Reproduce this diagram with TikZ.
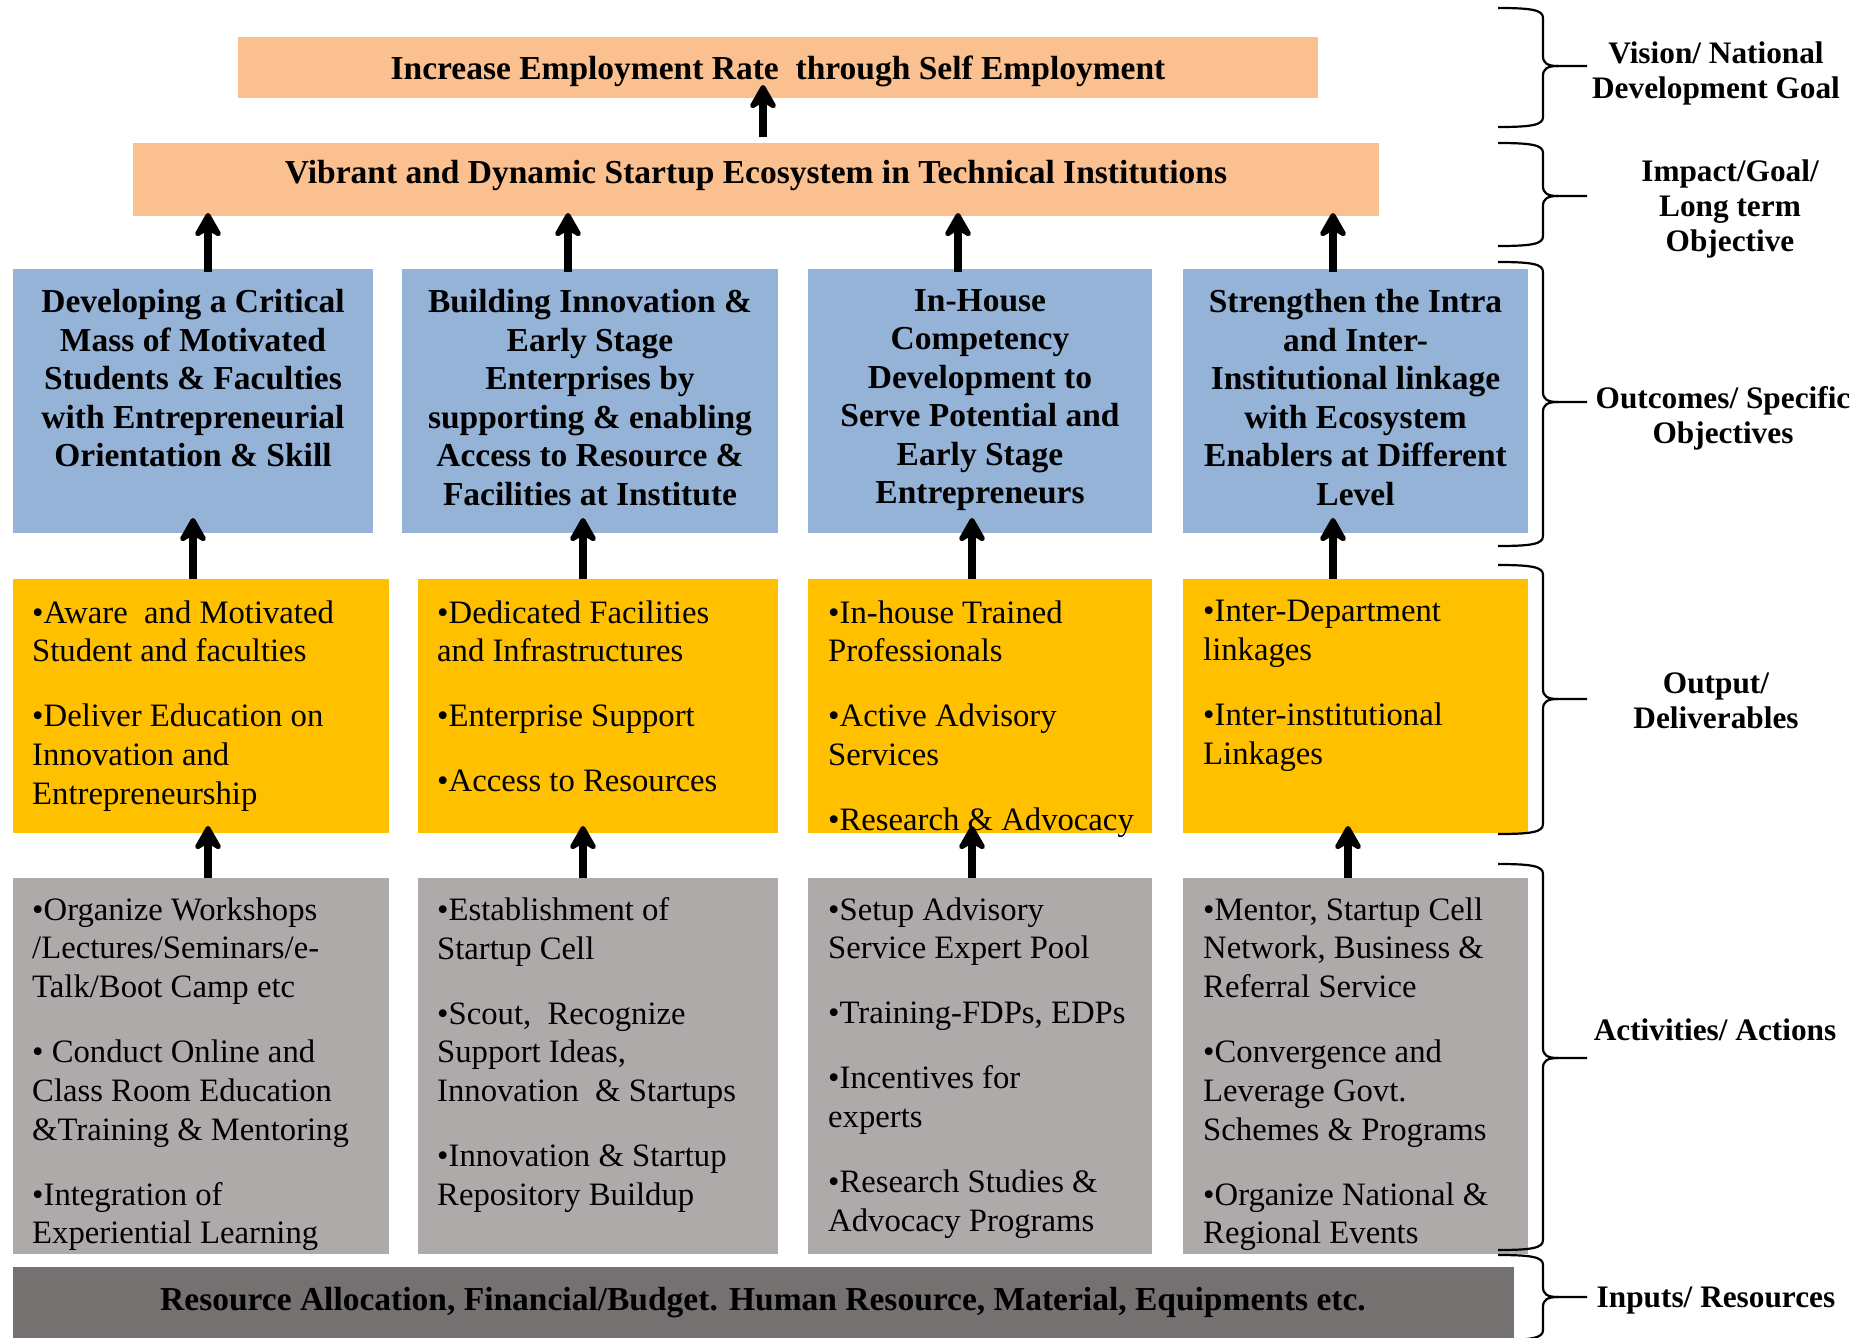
\documentclass[tikz,border=0pt]{standalone}
\usepackage{fontspec}
\setmainfont{Liberation Serif}
\usetikzlibrary{arrows.meta,calc}
\definecolor{peach}{HTML}{FAC090}
\definecolor{bluebox}{HTML}{95B3D7}
\definecolor{yelbox}{HTML}{FFC000}
\definecolor{graybox}{HTML}{AEAAAA}
\definecolor{darkbox}{HTML}{767171}
\newcommand\myB{\fontsize{33.5}{38.5}\selectfont\bfseries}
\newcommand\myR{\fontsize{32.7}{38.7}\selectfont}
\newcommand\myL{\fontsize{31.3}{35}\selectfont\bfseries}
\newcommand\parg{\\[26.3pt]}
\newcommand\firstline{\rule{0pt}{30pt}}
\newcommand\mybrace[3]{%
  \draw[brace] (1498,#1) .. controls (1532,#1) and (1543,#1+2) .. (1543,#1+10)
    -- (1543,#2-10) .. controls (1543,#2-3) and (1547,#2) .. (1558,#2) -- (1587,#2);
  \draw[brace] (1498,#3) .. controls (1532,#3) and (1543,#3-2) .. (1543,#3-10)
    -- (1543,#2+10) .. controls (1543,#2+3) and (1547,#2) .. (1558,#2);}
\begin{document}
\begin{tikzpicture}[x=1pt,y=-1pt,
  box/.style={draw=none, inner sep=0pt, outer sep=0pt, anchor=north west, rectangle},
  txt/.style={inner sep=0pt, yshift=30pt, execute at begin node={\firstline}},
  ml/.style={yshift=-9.3pt},
  ctext/.style={txt, anchor=north, align=center, font=\myB},
  ltext/.style={txt, ml, anchor=north west, align=left, font=\myR},
  lab/.style={txt, anchor=north, align=center, font=\myL},
  arr/.style={line width=8pt, -{Stealth[length=30pt,width=34pt,inset=10pt,round]}},
  brace/.style={line width=2.2pt}]
\useasboundingbox (0,0) rectangle (1863,1338);

% boxes
\node[box, fill=peach, minimum width=1080pt, minimum height=61pt] (vis) at (238,37) {};
\node[box, fill=peach, minimum width=1246pt, minimum height=73pt] (imp) at (133,143) {};
\node[box, fill=bluebox, minimum width=360pt, minimum height=264pt] (blue1) at (13,269) {};
\node[box, fill=bluebox, minimum width=376pt, minimum height=264pt] (blue2) at (402,269) {};
\node[box, fill=bluebox, minimum width=344pt, minimum height=264pt] (blue3) at (808,269) {};
\node[box, fill=bluebox, minimum width=345pt, minimum height=264pt] (blue4) at (1183,269) {};
\node[box, fill=yelbox, minimum width=376pt, minimum height=254pt] (yel1) at (13,579) {};
\node[box, fill=yelbox, minimum width=360pt, minimum height=254pt] (yel2) at (418,579) {};
\node[box, fill=yelbox, minimum width=344pt, minimum height=254pt] (yel3) at (808,579) {};
\node[box, fill=yelbox, minimum width=345pt, minimum height=254pt] (yel4) at (1183,579) {};
\node[box, fill=graybox, minimum width=376pt, minimum height=376pt] (gray1) at (13,878) {};
\node[box, fill=graybox, minimum width=360pt, minimum height=376pt] (gray2) at (418,878) {};
\node[box, fill=graybox, minimum width=344pt, minimum height=376pt] (gray3) at (808,878) {};
\node[box, fill=graybox, minimum width=345pt, minimum height=376pt] (gray4) at (1183,878) {};
\node[box, fill=darkbox, minimum width=1501pt, minimum height=72pt] (res) at (13,1267) {};

% texts (positions are first-line baselines)
\node[ctext] (vist) at (778,79) {Increase Employment Rate~ through Self Employment};
\node[ctext] (impt) at (756,183) {Vibrant and Dynamic Startup Ecosystem in Technical Institutions};
\node[ctext, ml] (blue1t) at (193,310) {Developing a Critical\\Mass of Motivated\\Students \& Faculties\\with Entrepreneurial\\Orientation \& Skill};
\node[ctext, ml] (blue2t) at (590,310) {Building Innovation \&\\Early Stage\\Enterprises by\\supporting \& enabling\\Access to Resource \&\\Facilities at Institute};
\node[ctext, ml] (blue3t) at (980,310) {In-House\\Competency\\Development to\\Serve Potential and\\Early Stage\\Entrepreneurs};
\node[ctext, ml] (blue4t) at (1355.5,310) {Strengthen the Intra\\and Inter-\\Institutional linkage\\with Ecosystem\\Enablers at Different\\Level};

\node[ltext] (yel1t) at (32,621) {•Aware~ and Motivated\\Student and faculties\parg •Deliver Education on\\Innovation and\\Entrepreneurship};
\node[ltext] (yel2t) at (437,621) {•Dedicated Facilities\\and Infrastructures\parg •Enterprise Support\parg •Access to Resources};
\node[ltext] (yel3t) at (828,621) {•In-house Trained\\Professionals\parg •Active Advisory\\Services\parg •Research \& Advocacy};
\node[ltext] (yel4t) at (1203,621) {•Inter-Department\\linkages\parg •Inter-institutional\\Linkages};

\node[ltext] (gray1t) at (32,918) {•Organize Workshops\\/Lectures/Seminars/e-\\Talk/Boot Camp etc\parg • Conduct Online and\\Class Room Education\\\&Training \& Mentoring\parg •Integration of\\Experiential Learning};
\node[ltext] (gray2t) at (437,918) {•Establishment of\\Startup Cell\parg •Scout,~ Recognize\\Support Ideas,\\Innovation~ \& Startups\parg •Innovation \& Startup\\Repository Buildup};
\node[ltext] (gray3t) at (828,918) {•Setup Advisory\\Service Expert Pool\parg •Training-FDPs, EDPs\parg •Incentives for\\experts\parg •Research Studies \&\\Advocacy Programs};
\node[ltext] (gray4t) at (1203,918) {•Mentor, Startup Cell\\Network, Business \&\\Referral Service\parg •Convergence and\\Leverage Govt.\\Schemes \& Programs\parg •Organize National \&\\Regional Events};

\node[ctext] (rest) at (763,1310) {Resource Allocation, Financial/Budget. Human Resource, Material, Equipments etc.};

% labels
\node[lab, ml] (lab1) at (1716,62) {Vision/ National\\Development Goal};
\node[lab, ml] (lab2) at (1730,180) {Impact/Goal/\\Long term\\Objective};
\node[lab, ml] (lab3) at (1723,407) {Outcomes/ Specific\\Objectives};
\node[lab, ml] (lab4) at (1716,693) {Output/\\Deliverables};
\node[lab] (lab5) at (1715,1040) {Activities/ Actions};
\node[lab] (lab6) at (1716,1307) {Inputs/ Resources};

% braces
\mybrace{8}{66}{127}
\mybrace{143}{196}{246}
\mybrace{262}{402}{546}
\mybrace{565}{699}{834}
\mybrace{864}{1058}{1250}
\mybrace{1255}{1297}{1340}

% arrows
\coordinate (u0) at ($(imp.north)+(7,-6)$);
\draw[arr, shorten >=-13pt] (u0) -- (u0 |- vis.south);
\coordinate (u1) at ($(blue1.north)+(15,3)$);
\coordinate (u2) at ($(blue2.north)+(-22,3)$);
\coordinate (u3) at ($(blue3.north)+(-22,3)$);
\coordinate (u4) at ($(blue4.north)+(-22.5,3)$);
\foreach \i in {1,2,3,4} {\draw[arr, shorten >=-3pt] (u\i) -- (u\i |- imp.south);}
\coordinate (v1) at ($(yel1.north)+(-8,0)$);
\coordinate (v2) at ($(yel2.north)+(-15,0)$);
\coordinate (v3) at ($(yel3.north)+(-8,0)$);
\coordinate (v4) at ($(yel4.north)+(-22.5,0)$);
\draw[arr, shorten >=-15pt] (v1) -- (v1 |- blue1.south);
\draw[arr, shorten >=-15pt] (v2) -- (v2 |- blue2.south);
\draw[arr, shorten >=-15pt] (v3) -- (v3 |- blue3.south);
\draw[arr, shorten >=-15pt] (v4) -- (v4 |- blue4.south);
\coordinate (w1) at ($(gray1.north)+(7,0)$);
\coordinate (w2) at ($(gray2.north)+(-15,0)$);
\coordinate (w3) at ($(gray3.north)+(-8,0)$);
\coordinate (w4) at ($(gray4.north)+(-7.5,0)$);
\draw[arr, shorten >=-7pt] (w1) -- (w1 |- yel1.south);
\draw[arr, shorten >=-7pt] (w2) -- (w2 |- yel2.south);
\draw[arr, shorten >=-7pt] (w3) -- (w3 |- yel3.south);
\draw[arr, shorten >=-7pt] (w4) -- (w4 |- yel4.south);
\end{tikzpicture}
\end{document}
